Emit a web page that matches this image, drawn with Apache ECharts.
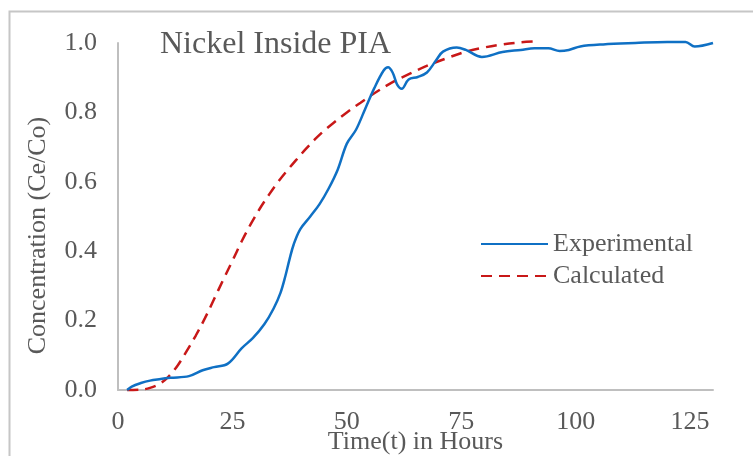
<!DOCTYPE html>
<html>
<head>
<meta charset="utf-8">
<script src="https://cdn.jsdelivr.net/npm/echarts@6/dist/echarts.min.js"></script>
<style>
  html, body { margin: 0; padding: 0; background: #fff; }
  #chart { width: 753px; height: 456px; }
</style>
</head>
<body>
<div id="chart"></div>
<script>
// Breakthrough curve of nickel inside PIA: measured vs. model
const titleText = 'Nickel Inside PIA';
const seriesNames = ['Experimental', 'Calculated'];
const xTicks = [0, 25, 50, 75, 100, 125];
const yTicks = [0, 0.2, 0.4, 0.6, 0.8, 1.0];

// time (h) and Ce/Co for the measured run
const expTime = [2, 3, 5, 7, 9, 11.5, 15.5, 18.5, 21, 24, 27, 29.5, 32, 34, 35.5, 36.6, 37.5, 38.4, 39.8, 42, 44, 46, 48, 50, 52, 54, 56, 58, 59, 60, 61, 62, 63.5, 65.5, 67.5, 69.5, 71, 74, 76, 79.5, 84, 88, 91, 94, 96.5, 98.5, 101, 106, 113, 120, 124, 126, 130];
const expConc = [0, 0.01, 0.02, 0.027, 0.031, 0.035, 0.04, 0.057, 0.066, 0.076, 0.12, 0.15, 0.19, 0.235, 0.28, 0.33, 0.378, 0.42, 0.463, 0.5, 0.535, 0.58, 0.635, 0.71, 0.75, 0.81, 0.87, 0.92, 0.93, 0.915, 0.88, 0.868, 0.895, 0.902, 0.915, 0.95, 0.975, 0.987, 0.98, 0.96, 0.974, 0.98, 0.985, 0.985, 0.977, 0.98, 0.99, 0.996, 1.0, 1.003, 1.003, 0.99, 1.0];

// time (h) and Ce/Co from the model
const calTime = [2, 5, 7, 9, 11, 13, 15, 17, 19, 21, 23, 25, 27, 29, 31, 33, 35, 37, 39, 41, 43, 45, 47, 50, 53, 56, 60, 64, 68, 72, 76, 80, 84, 88, 92];
const calConc = [0, 0.001, 0.006, 0.017, 0.038, 0.07, 0.112, 0.157, 0.207, 0.262, 0.318, 0.372, 0.428, 0.478, 0.523, 0.563, 0.6, 0.633, 0.664, 0.694, 0.722, 0.747, 0.769, 0.8, 0.828, 0.855, 0.887, 0.913, 0.937, 0.957, 0.975, 0.987, 0.996, 1.002, 1.005];

const pair = (xs, ys) => xs.map((x, i) => [x, ys[i]]);

const txt = '#595959';
const font = '"Liberation Serif", "Times New Roman", serif';

const chart = echarts.init(document.getElementById('chart'), null, { renderer: 'canvas' });
chart.setOption({
  backgroundColor: '#ffffff',
  animation: false,
  textStyle: { fontFamily: font },
  graphic: [{
    type: 'rect',
    shape: { x: 9.5, y: 11.5, width: 800, height: 500 },
    style: { fill: 'none', stroke: '#c6c6c6', lineWidth: 2 },
    silent: true
  }],
  title: {
    text: titleText,
    left: 155, top: 24,
    textStyle: { fontFamily: font, fontSize: 32, fontWeight: 'normal', color: txt }
  },
  legend: {
    orient: 'vertical',
    left: 475, top: 226,
    itemWidth: 67, itemHeight: 14, itemGap: 6,
    data: seriesNames,
    itemStyle: { opacity: 0 },
    textStyle: { fontFamily: font, fontSize: 26, color: txt, lineHeight: 26 }
  },
  grid: { left: 118, right: 40, top: 43, bottom: 66, outerBoundsMode: 'none' },
  xAxis: {
    type: 'value', min: 0, max: 130, interval: 25,
    name: 'Time(t) in Hours', nameLocation: 'middle', nameGap: 39, nameMoveOverlap: false,
    nameTextStyle: { fontFamily: font, fontSize: 26, color: txt },
    axisLine: { show: true, lineStyle: { color: '#bfbfbf', width: 2 } },
    axisTick: { show: false },
    splitLine: { show: false },
    axisLabel: {
      fontFamily: font, fontSize: 26, color: txt, margin: 19,
      formatter: v => (xTicks.includes(v) ? String(v) : '')
    }
  },
  yAxis: {
    type: 'value', min: 0, max: 1, interval: 0.2,
    name: 'Concentration (Ce/Co)', nameLocation: 'middle', nameGap: 67,
    nameTextStyle: { fontFamily: font, fontSize: 26, color: txt, padding: [0, 38, 0, 0] },
    axisLine: { show: true, lineStyle: { color: '#bfbfbf', width: 2 } },
    axisTick: { show: false },
    splitLine: { show: false },
    axisLabel: {
      fontFamily: font, fontSize: 26, color: txt, margin: 21,
      formatter: v => yTicks.some(t => Math.abs(t - v) < 1e-9) ? v.toFixed(1) : ''
    }
  },
  series: [
    {
      name: seriesNames[0], type: 'line', data: pair(expTime, expConc),
      smooth: 0.35, symbol: 'none', clip: false,
      lineStyle: { color: '#0f70c4', width: 2.5 },
      itemStyle: { color: '#0f70c4' },
      z: 3
    },
    {
      name: seriesNames[1], type: 'line', data: pair(calTime, calConc),
      smooth: 0.35, symbol: 'none', clip: false,
      lineStyle: { color: '#c81818', width: 2.5, type: [11, 7] },
      itemStyle: { color: '#c81818' },
      z: 2
    }
  ]
});
</script>
</body>
</html>
